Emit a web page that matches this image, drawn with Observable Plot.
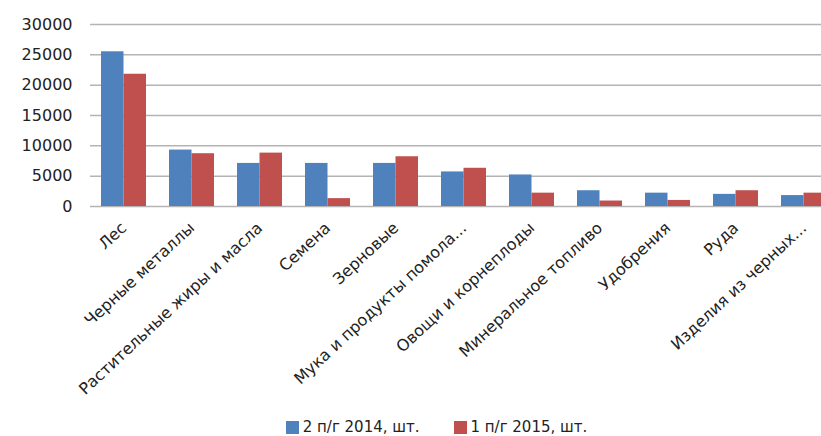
<!DOCTYPE html>
<html>
<head>
<meta charset="utf-8">
<script src="https://cdn.jsdelivr.net/npm/d3@7"></script>
<script src="https://cdn.jsdelivr.net/npm/@observablehq/plot@0.6"></script>
<style>
  html, body { margin: 0; padding: 0; background: #fff; overflow: hidden; width: 821px; height: 436px; }
  #chart svg { display: block; overflow: hidden; }
  .legend { display: flex; justify-content: center; align-items: center; height: 18px; padding-left: 52px;
            font-family: "DejaVu Sans", sans-serif; font-size: 15px; color: #222; }
  .legend .item { display: flex; align-items: center; margin: 0 17px; }
  .legend .sw { width: 13px; height: 13px; margin-right: 4px; display: inline-block; }
</style>
</head>
<body>
<div id="chart"></div>
<div class="legend" id="legend"></div>
<script>
const categories = ["Лес", "Черные металлы", "Растительные жиры и масла", "Семена", "Зерновые",
  "Мука и продукты помола...", "Овощи и корнеплоды", "Минеральное топливо", "Удобрения", "Руда",
  "Изделия из черных..."];
const series = ["2 п/г 2014, шт.", "1 п/г 2015, шт."];
const values2014 = [25500, 9300, 7100, 7100, 7100, 5700, 5200, 2600, 2200, 2000, 1800];
const values2015 = [21800, 8700, 8800, 1300, 8200, 6300, 2200, 900, 1000, 2600, 2200];
const yTicks = [0, 5000, 10000, 15000, 20000, 25000, 30000];
const colors = ["#4F81BD", "#C0504D"];

const d14 = categories.map((c, i) => ({category: c, value: values2014[i]}));
const d15 = categories.map((c, i) => ({category: c, value: values2015[i]}));

const half = 22.5;
const chart = Plot.plot({
  width: 821,
  height: 418,
  marginTop: 24,
  marginBottom: 212,
  marginLeft: 90,
  marginRight: 0,
  style: {fontFamily: "DejaVu Sans, sans-serif", fontSize: "15px", color: "#222", background: "#fff"},
  x: {domain: categories, range: [90, 838], paddingInner: 0.338, paddingOuter: 0.169, label: null},
  y: {domain: [0, 30000], label: null},
  marks: [
    Plot.ruleY(yTicks, {stroke: "#b4b4b4", strokeWidth: 1.5}),
    Plot.barY(d14, {x: "category", y: "value", fill: colors[0], insetRight: half}),
    Plot.barY(d15, {x: "category", y: "value", fill: colors[1], insetLeft: half}),
    Plot.axisY({ticks: yTicks, tickSize: 0, tickPadding: 18, tickFormat: d => String(d), fontSize: 16}),
    Plot.axisX({tickSize: 0, tickPadding: 19, tickRotate: -43, fontSize: 16})
  ]
});
document.getElementById("chart").appendChild(chart);

const legend = document.getElementById("legend");
series.forEach((s, i) => {
  const it = document.createElement("span");
  it.className = "item";
  const sw = document.createElement("span");
  sw.className = "sw";
  sw.style.background = colors[i];
  it.appendChild(sw);
  it.appendChild(document.createTextNode(s));
  legend.appendChild(it);
});
</script>
</body>
</html>
